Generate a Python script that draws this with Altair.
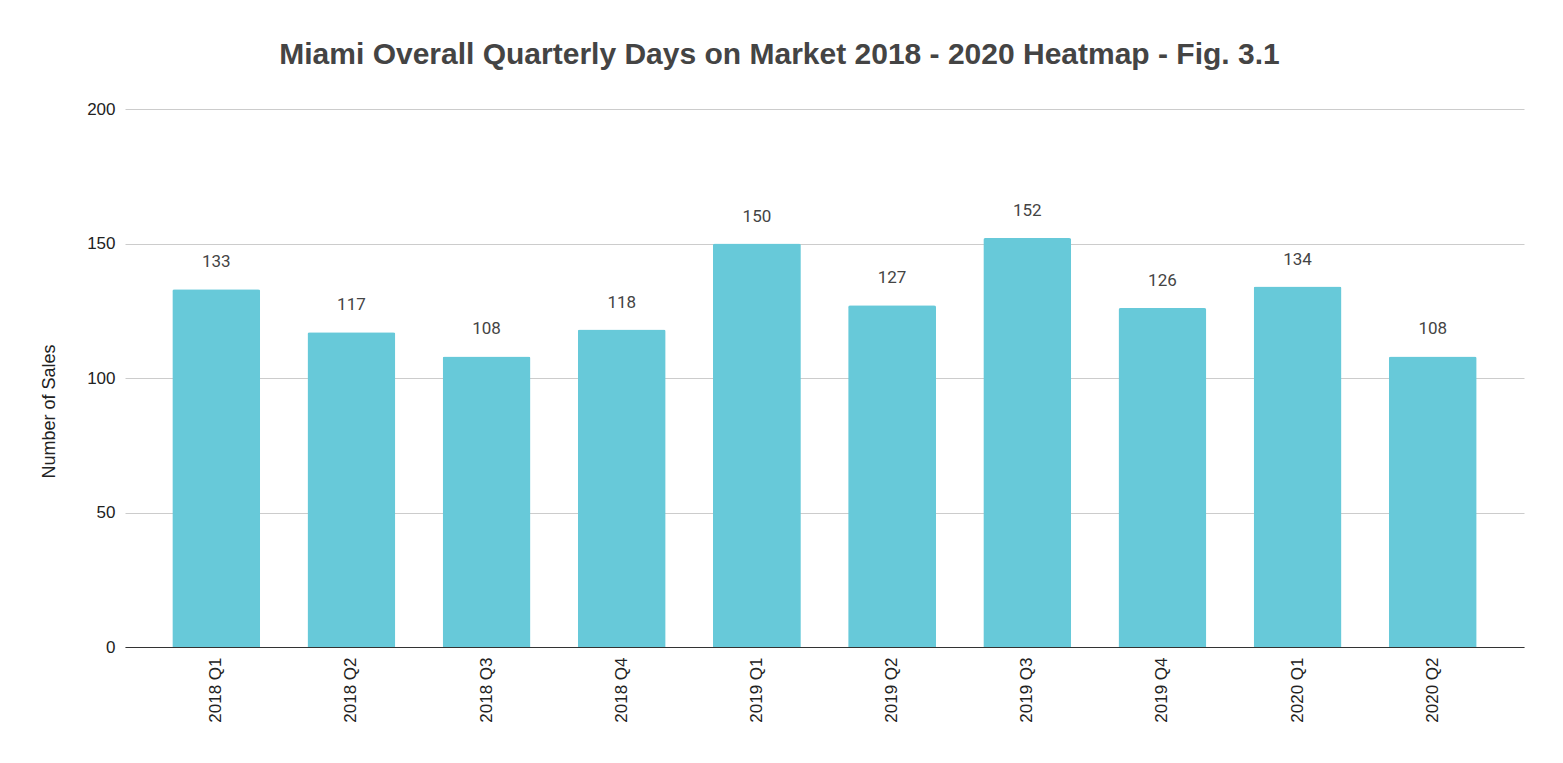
import altair as alt
import pandas as pd

quarters = ["2018 Q1", "2018 Q2", "2018 Q3", "2018 Q4", "2019 Q1",
            "2019 Q2", "2019 Q3", "2019 Q4", "2020 Q1", "2020 Q2"]
days = [133, 117, 108, 118, 150, 127, 152, 126, 134, 108]

df = pd.DataFrame({"quarter": quarters, "days": days})

x = alt.X("quarter:N", sort=quarters, title=None,
          scale=alt.Scale(paddingInner=0.35, paddingOuter=0.35),
          axis=alt.Axis(labelAngle=-90, labelFont="Liberation Sans", labelFontSize=17,
                        labelColor="#222222", ticks=False, domainColor="#333333",
                        labelPadding=10, labelAlign="right", labelBaseline="middle"))
y = alt.Y("days:Q", title="Number of Sales",
          scale=alt.Scale(domain=[0, 200]),
          axis=alt.Axis(values=[0, 50, 100, 150, 200], domain=False, ticks=False,
                        gridColor="#cccccc", labelFont="Liberation Sans", labelFontSize=17,
                        labelColor="#222222", labelPadding=10,
                        titleFont="Liberation Sans", titleFontSize=18, titleFontWeight="normal",
                        titleColor="#222222", titlePadding=28, titleY=302))

bars = alt.Chart(df).mark_bar(color="#67C9D9", cornerRadiusTopLeft=2,
                              cornerRadiusTopRight=2).encode(x=x, y=y)
labels = alt.Chart(df).mark_text(font="Roboto", fontSize=17, color="#444444",
                                 baseline="alphabetic", dy=-22).encode(
    x=alt.X("quarter:N", sort=quarters), y="days:Q", text="days:Q")

chart = (bars + labels).properties(
    width=1399, height=538,
    autosize=alt.AutoSizeParams(type="none"),
    padding={"left": 117, "top": 101, "right": 31, "bottom": 108},
    title=alt.TitleParams("Miami Overall Quarterly Days on Market 2018 - 2020 Heatmap - Fig. 3.1",
                          font="Liberation Sans", fontSize=30, fontWeight="bold",
                          color="#444444", anchor="middle", dx=-45, dy=37, offset=43,
                          baseline="alphabetic")
).configure_view(stroke=None)

chart.save("out.html", embed_options={"renderer": "svg", "actions": False})
